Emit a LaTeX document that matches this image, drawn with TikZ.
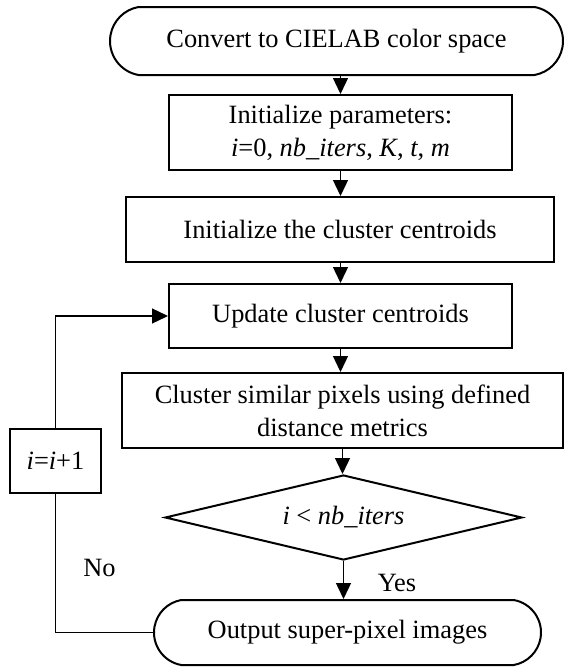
\documentclass[tikz,border=0pt]{standalone}
\usepackage{fontspec}
\setmainfont{Liberation Serif}
\usetikzlibrary{arrows.meta,shapes.geometric,shapes.misc}
\begin{document}
\begin{tikzpicture}[x=1pt,y=-1pt,
  every node/.style={font=\fontsize{26.4}{33}\selectfont, inner sep=0pt},
  proc/.style={draw, line width=2pt, rectangle, align=center},
  term/.style={draw, line width=2pt, rounded rectangle, rounded rectangle arc length=160, align=center},
  decision/.style={draw, line width=2pt, diamond, aspect=4.2},
  conn/.style={line width=1.4pt},
  arr/.style={conn, -{Triangle[length=16pt,width=15pt]}},
  lbl/.style={}]
\useasboundingbox (0,0) rectangle (564,667);
\node[term, minimum width=453pt, minimum height=68pt] (start) at (336.5,41) {Convert to CIELAB color space};
\node[proc, minimum width=343pt, minimum height=75pt] (init) at (340.5,132.5) {Initialize parameters:\\\textit{i}=0, \textit{nb\_iters}, \textit{K}, \textit{t}, \textit{m}};
\node[proc, minimum width=428pt, minimum height=65pt] (initc) at (340,229.5) {Initialize the cluster centroids};
\node[proc, minimum width=343pt, minimum height=64pt] (update) at (340.5,316) {Update cluster centroids};
\node[proc, minimum width=441pt, minimum height=75pt] (clus) at (342.5,410.5) {Cluster similar pixels using defined\\distance metrics};
\node[decision, minimum width=357pt, minimum height=85pt] (dec) at (343.5,517.5) {\textit{i} < \textit{nb\_iters}};
\node[term, minimum width=387pt, minimum height=65pt] (out) at (347.5,632.5) {Output super-pixel images};
\node[proc, minimum width=91pt, minimum height=64pt] (inc) at (55.5,461) {\textit{i}=\textit{i}+1};
\node[lbl] (no) at (99.5,568) {No};
\node[lbl] (yes) at (397,583) {Yes};
\draw[arr] (start.south -| init.north) -- (init.north);
\draw[arr] (init.south) -- (init.south |- initc.north);
\draw[arr] (initc.south -| update.north) -- (update.north);
\draw[arr] (update.south) -- (update.south |- clus.north);
\draw[arr] (clus.south) -- (clus.south |- dec.north);
\draw[arr] (dec.south) -- (dec.south |- out.north);
\draw[conn] (out.west) -| (inc.south);
\draw[arr] (inc.north) |- (update.west);
\end{tikzpicture}
\end{document}
